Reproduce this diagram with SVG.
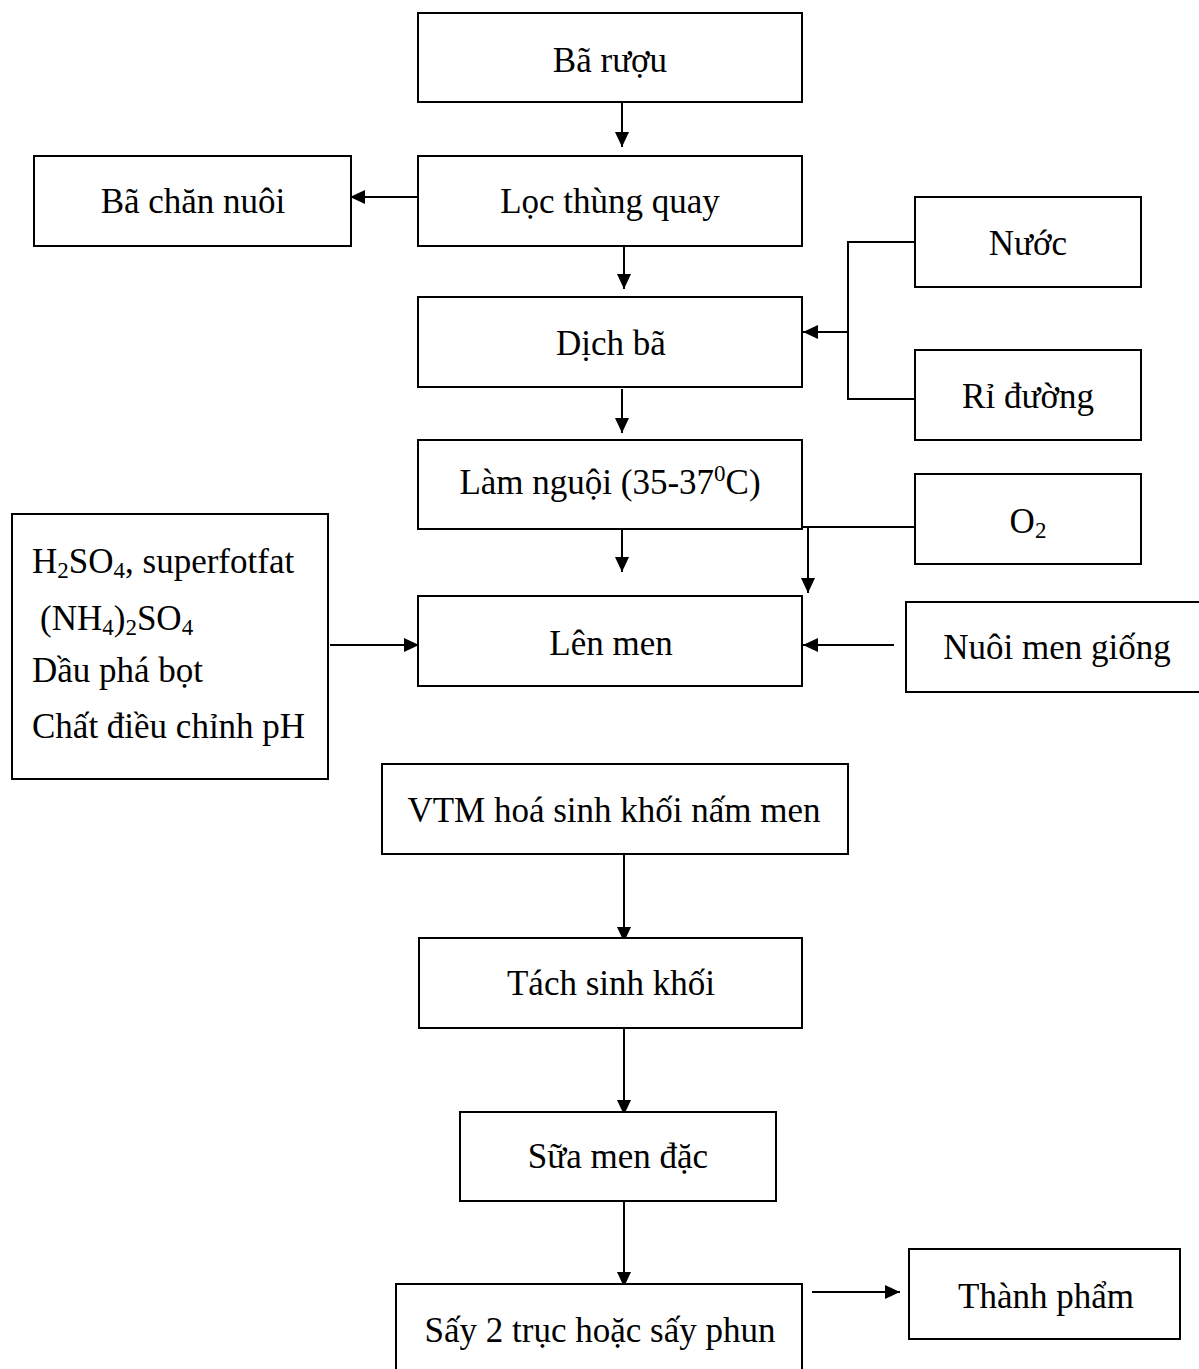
<svg xmlns="http://www.w3.org/2000/svg" width="1199" height="1369" viewBox="0 0 1199 1369">
  <style>
    .box { fill: #ffffff; stroke: #000000; stroke-width: 2; }
    .lbl { font-family: "Liberation Serif", "Times New Roman", serif; font-size: 35px; fill: #000000; }
    .mid { text-anchor: middle; }
    .wire { fill: none; stroke: #000000; stroke-width: 2; }
    .arrow { fill: none; stroke: #000000; stroke-width: 2; marker-end: url(#head); }
  </style>
  <defs>
    <marker id="head" markerUnits="userSpaceOnUse" markerWidth="16" markerHeight="16" refX="15" refY="7" orient="auto" overflow="visible">
      <path d="M0,0 L15,7 L0,14 z" fill="#000000"/>
    </marker>
  </defs>
  <rect width="1199" height="1369" fill="#ffffff"/>

  <!-- connectors -->
  <g id="connectors">
    <line class="arrow" x1="622" y1="102" x2="622" y2="147"/>
    <line class="arrow" x1="418" y1="197" x2="350" y2="197"/>
    <line class="arrow" x1="624" y1="246" x2="624" y2="289"/>
    <polyline class="wire" points="915,242 848,242 848,399 915,399"/>
    <line class="arrow" x1="847" y1="332" x2="803" y2="332"/>
    <line class="arrow" x1="622" y1="389" x2="622" y2="433"/>
    <line class="arrow" x1="622" y1="528" x2="622" y2="572"/>
    <line class="wire" x1="915" y1="527" x2="802" y2="527"/>
    <line class="arrow" x1="808" y1="527" x2="808" y2="593"/>
    <line class="arrow" x1="330" y1="645" x2="419" y2="645"/>
    <line class="arrow" x1="894" y1="645" x2="803" y2="645"/>
    <line class="arrow" x1="624" y1="854" x2="624" y2="942"/>
    <line class="arrow" x1="624" y1="1028" x2="624" y2="1115"/>
    <line class="arrow" x1="624" y1="1200" x2="624" y2="1287"/>
    <line class="arrow" x1="812" y1="1292" x2="900" y2="1292"/>
  </g>

  <!-- process steps -->
  <g id="ba-ruou">
    <rect class="box" x="418" y="13" width="384" height="89"/>
    <text class="lbl mid" x="610" y="72">Bã rượu</text>
  </g>
  <g id="loc-thung-quay">
    <rect class="box" x="418" y="156" width="384" height="90"/>
    <text class="lbl mid" x="610" y="213">Lọc thùng quay</text>
  </g>
  <g id="ba-chan-nuoi">
    <rect class="box" x="34" y="156" width="317" height="90"/>
    <text class="lbl mid" x="193" y="213">Bã chăn nuôi</text>
  </g>
  <g id="nuoc">
    <rect class="box" x="915" y="197" width="226" height="90"/>
    <text class="lbl mid" x="1028" y="255">Nước</text>
  </g>
  <g id="dich-ba">
    <rect class="box" x="418" y="297" width="384" height="90"/>
    <text class="lbl mid" x="611" y="355">Dịch bã</text>
  </g>
  <g id="ri-duong">
    <rect class="box" x="915" y="350" width="226" height="90"/>
    <text class="lbl mid" x="1028" y="408">Rỉ đường</text>
  </g>
  <g id="lam-nguoi">
    <rect class="box" x="418" y="440" width="384" height="89"/>
    <text class="lbl mid" x="610" y="494">Làm nguội (35-37<tspan font-size="23" dy="-13">0</tspan><tspan dy="13">C)</tspan></text>
  </g>
  <g id="oxy">
    <rect class="box" x="915" y="474" width="226" height="90"/>
    <text class="lbl mid" x="1028" y="533">O<tspan font-size="23" dy="5">2</tspan></text>
  </g>
  <g id="phu-gia">
    <rect class="box" x="12" y="514" width="316" height="265"/>
    <text class="lbl" x="32" y="573">H<tspan font-size="23" dy="5">2</tspan><tspan dy="-5">SO</tspan><tspan font-size="23" dy="5">4</tspan><tspan dy="-5">, superfotfat</tspan></text>
    <text class="lbl" x="40" y="630">(NH<tspan font-size="23" dy="5">4</tspan><tspan dy="-5">)</tspan><tspan font-size="23" dy="5">2</tspan><tspan dy="-5">SO</tspan><tspan font-size="23" dy="5">4</tspan></text>
    <text class="lbl" x="32" y="682">Dầu phá bọt</text>
    <text class="lbl" x="32" y="738">Chất điều chỉnh pH</text>
  </g>
  <g id="len-men">
    <rect class="box" x="418" y="596" width="384" height="90"/>
    <text class="lbl mid" x="611" y="655">Lên men</text>
  </g>
  <g id="nuoi-men-giong">
    <rect class="box" x="906" y="602" width="300" height="90"/>
    <text class="lbl mid" x="1057" y="659">Nuôi men giống</text>
  </g>
  <g id="vtm">
    <rect class="box" x="382" y="764" width="466" height="90"/>
    <text class="lbl mid" x="614" y="822">VTM hoá sinh khối nấm men</text>
  </g>
  <g id="tach-sinh-khoi">
    <rect class="box" x="419" y="938" width="383" height="90"/>
    <text class="lbl mid" x="611" y="995">Tách sinh khối</text>
  </g>
  <g id="sua-men-dac">
    <rect class="box" x="460" y="1112" width="316" height="89"/>
    <text class="lbl mid" x="618" y="1168">Sữa men đặc</text>
  </g>
  <g id="say">
    <rect class="box" x="396" y="1284" width="406" height="100"/>
    <text class="lbl mid" x="600" y="1342">Sấy 2 trục hoặc sấy phun</text>
  </g>
  <g id="thanh-pham">
    <rect class="box" x="909" y="1249" width="271" height="90"/>
    <text class="lbl mid" x="1046" y="1308">Thành phẩm</text>
  </g>
</svg>
